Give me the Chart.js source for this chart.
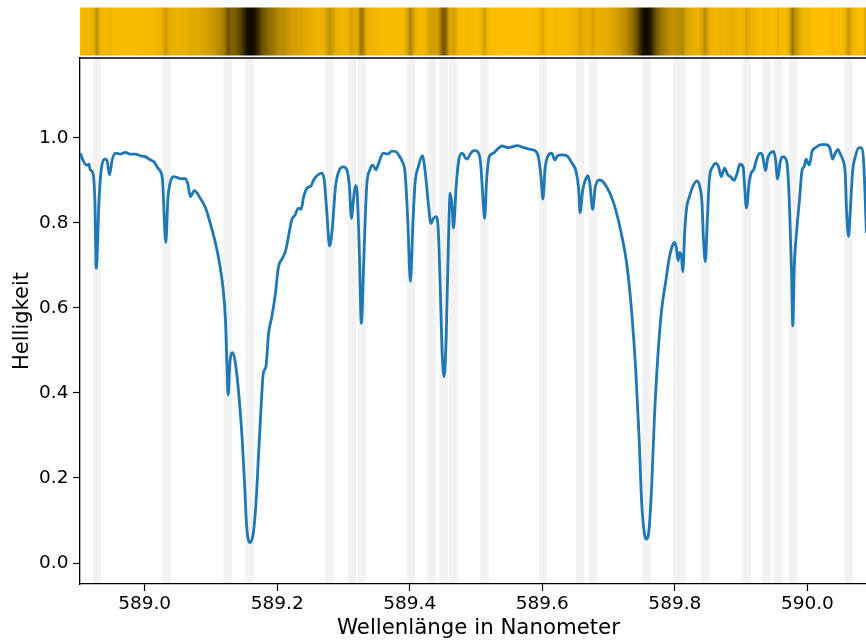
<!DOCTYPE html>
<html>
<head>
<meta charset="utf-8">
<title>Sonnenspektrum Natrium-D-Linien</title>
<script src="https://cdn.jsdelivr.net/npm/chart.js@4.4.1/dist/chart.umd.min.js"></script>
<style>
  html, body { margin: 0; padding: 0; background: #fff; overflow: hidden; }
  #wrap { width: 866px; height: 641px; overflow: hidden; }
</style>
</head>
<body>
<div id="wrap"><canvas id="spectrum" width="878" height="641"></canvas></div>
<script>
// wavelength in nm and relative brightness
const wavelength = [
  588.903, 588.908, 588.912, 588.916, 588.918, 588.922, 588.925, 588.927, 588.931, 588.934,
  588.939, 588.943, 588.947, 588.951, 588.956, 588.963, 588.971, 588.978, 588.986, 588.994,
  589.001, 589.009, 589.014, 589.020, 589.024, 589.027, 589.032, 589.035, 589.039, 589.044,
  589.049, 589.054, 589.061, 589.065, 589.069, 589.075, 589.084, 589.092, 589.099, 589.107,
  589.113, 589.118, 589.122, 589.124, 589.126, 589.129, 589.133, 589.137, 589.142, 589.147,
  589.151, 589.154, 589.159, 589.164, 589.168, 589.172, 589.176, 589.179, 589.183, 589.187,
  589.192, 589.197, 589.202, 589.208, 589.213, 589.217, 589.222, 589.227, 589.232, 589.236,
  589.240, 589.245, 589.251, 589.255, 589.260, 589.267, 589.271, 589.275, 589.279, 589.283,
  589.288, 589.294, 589.300, 589.305, 589.309, 589.312, 589.315, 589.318, 589.321, 589.324,
  589.327, 589.331, 589.335, 589.340, 589.344, 589.349, 589.353, 589.360, 589.367, 589.373,
  589.379, 589.384, 589.388, 589.393, 589.397, 589.401, 589.405, 589.408, 589.413, 589.419,
  589.423, 589.428, 589.432, 589.436, 589.440, 589.443, 589.446, 589.449, 589.452, 589.455,
  589.458, 589.461, 589.464, 589.466, 589.470, 589.474, 589.479, 589.486, 589.494, 589.499,
  589.504, 589.507, 589.510, 589.513, 589.516, 589.520, 589.526, 589.532, 589.539, 589.549,
  589.562, 589.572, 589.582, 589.589, 589.594, 589.598, 589.601, 589.604, 589.608, 589.614,
  589.619, 589.623, 589.630, 589.637, 589.645, 589.651, 589.655, 589.657, 589.661, 589.665,
  589.669, 589.672, 589.676, 589.680, 589.687, 589.697, 589.707, 589.717, 589.728, 589.735,
  589.741, 589.746, 589.750, 589.754, 589.757, 589.761, 589.765, 589.769, 589.774, 589.780,
  589.787, 589.791, 589.795, 589.799, 589.802, 589.805, 589.807, 589.810, 589.812, 589.815,
  589.818, 589.822, 589.827, 589.833, 589.837, 589.841, 589.843, 589.846, 589.849, 589.852,
  589.857, 589.862, 589.866, 589.870, 589.875, 589.880, 589.884, 589.889, 589.894, 589.898,
  589.903, 589.905, 589.908, 589.912, 589.915, 589.919, 589.923, 589.928, 589.932, 589.934,
  589.937, 589.940, 589.944, 589.949, 589.952, 589.955, 589.959, 589.963, 589.967, 589.970,
  589.973, 589.976, 589.978, 589.980, 589.984, 589.988, 589.992, 589.995, 589.998, 590.001,
  590.003, 590.007, 590.013, 590.021, 590.028, 590.034, 590.038, 590.042, 590.046, 590.049,
  590.053, 590.057, 590.059, 590.062, 590.065, 590.068, 590.073, 590.078, 590.082, 590.085,
  590.089
];
const brightness = [
  0.964, 0.944, 0.936, 0.938, 0.925, 0.917, 0.850, 0.693, 0.846, 0.917,
  0.950, 0.948, 0.913, 0.948, 0.964, 0.962, 0.966, 0.962, 0.962, 0.958,
  0.956, 0.948, 0.944, 0.929, 0.921, 0.900, 0.754, 0.854, 0.897, 0.909,
  0.907, 0.904, 0.904, 0.893, 0.862, 0.876, 0.858, 0.835, 0.799, 0.752,
  0.705, 0.650, 0.572, 0.478, 0.395, 0.478, 0.495, 0.470, 0.399, 0.297,
  0.180, 0.085, 0.048, 0.070, 0.140, 0.258, 0.376, 0.446, 0.462, 0.540,
  0.580, 0.630, 0.697, 0.717, 0.736, 0.768, 0.807, 0.819, 0.835, 0.832,
  0.862, 0.882, 0.887, 0.901, 0.911, 0.917, 0.901, 0.823, 0.746, 0.784,
  0.885, 0.925, 0.932, 0.925, 0.885, 0.811, 0.854, 0.888, 0.862, 0.729,
  0.564, 0.729, 0.885, 0.926, 0.936, 0.925, 0.940, 0.964, 0.962, 0.969,
  0.968, 0.958, 0.947, 0.917, 0.807, 0.662, 0.807, 0.893, 0.932, 0.958,
  0.925, 0.846, 0.799, 0.811, 0.815, 0.784, 0.650, 0.493, 0.438, 0.532,
  0.729, 0.870, 0.838, 0.788, 0.885, 0.948, 0.964, 0.950, 0.968, 0.970,
  0.964, 0.940, 0.870, 0.811, 0.901, 0.956, 0.964, 0.973, 0.981, 0.977,
  0.982, 0.977, 0.973, 0.970, 0.956, 0.909, 0.856, 0.925, 0.956, 0.964,
  0.948, 0.958, 0.960, 0.958, 0.940, 0.921, 0.878, 0.824, 0.878, 0.901,
  0.911, 0.889, 0.832, 0.885, 0.901, 0.885, 0.850, 0.791, 0.697, 0.587,
  0.454, 0.297, 0.140, 0.070, 0.056, 0.078, 0.180, 0.336, 0.478, 0.595,
  0.670, 0.713, 0.740, 0.754, 0.744, 0.711, 0.730, 0.721, 0.685, 0.784,
  0.838, 0.862, 0.885, 0.899, 0.889, 0.846, 0.768, 0.709, 0.807, 0.901,
  0.932, 0.940, 0.932, 0.909, 0.929, 0.913, 0.909, 0.900, 0.917, 0.938,
  0.932, 0.893, 0.835, 0.893, 0.917, 0.925, 0.948, 0.964, 0.960, 0.944,
  0.923, 0.952, 0.964, 0.968, 0.948, 0.903, 0.944, 0.956, 0.952, 0.929,
  0.838, 0.689, 0.558, 0.689, 0.784, 0.854, 0.925, 0.932, 0.950, 0.940,
  0.936, 0.968, 0.978, 0.984, 0.984, 0.976, 0.950, 0.964, 0.973, 0.964,
  0.950, 0.917, 0.831, 0.768, 0.838, 0.917, 0.960, 0.977, 0.976, 0.940,
  0.776
];
// marked absorption lines (nm)
const lineCenters = [
  588.928, 589.033, 589.125, 589.159, 589.279, 589.313, 589.328, 589.402, 589.433, 589.451,
  589.466, 589.513, 589.601, 589.657, 589.676, 589.757, 589.804, 589.810, 589.846, 589.908,
  589.938, 589.956, 589.978, 590.062
];
const xTicks = [589.0, 589.2, 589.4, 589.6, 589.8, 590.0];
const yTicks = [0.0, 0.2, 0.4, 0.6, 0.8, 1.0];

const lineColor = "#1f77b4";
const bandColor = "#f2f2f2";

Chart.defaults.font.family = "'DejaVu Sans', sans-serif";
Chart.defaults.color = "#000";

// grey bands behind the curve + coloured spectrum strip above the axes
const backdrop = {
  id: "backdrop",
  beforeDraw(chart) {
    const { ctx, chartArea: a, scales: { x } } = chart;
    ctx.save();
    ctx.fillStyle = bandColor;
    lineCenters.forEach(c => {
      const l = x.getPixelForValue(c - 0.0064);
      const r = x.getPixelForValue(c + 0.0064);
      ctx.fillRect(l, a.top, r - l, a.bottom - a.top);
    });

    const grad = ctx.createLinearGradient(a.left, 0, a.right, 0);
    wavelength.forEach((w, i) => {
      const t = (x.getPixelForValue(w) - a.left) / (a.right - a.left);
      const v = Math.min(1, brightness[i] / 0.985);
      grad.addColorStop(Math.max(0, Math.min(1, t)), `rgb(${255 * v}, ${192 * v}, 0)`);
    });
    ctx.fillStyle = grad;
    ctx.fillRect(a.left, a.top - 50.5, a.right - a.left, 48);
    ctx.restore();
  },
  afterDraw(chart) {
    const { ctx, chartArea: a } = chart;
    ctx.save();
    ctx.strokeStyle = "#000";
    ctx.lineWidth = 1.3;
    ctx.beginPath();
    ctx.moveTo(a.left, a.top);
    ctx.lineTo(a.right, a.top);
    ctx.stroke();
    ctx.restore();
  }
};

new Chart(document.getElementById("spectrum"), {
  type: "line",
  data: {
    datasets: [{
      data: wavelength.map((w, i) => ({ x: w, y: brightness[i] })),
      borderColor: lineColor,
      borderWidth: 2.8,
      pointRadius: 0,
      cubicInterpolationMode: "monotone",
      fill: false,
    }],
  },
  options: {
    responsive: false,
    devicePixelRatio: 1,
    animation: false,
    events: [],
    layout: { padding: { top: 58, right: 1, left: 0, bottom: 0 } },
    plugins: { legend: { display: false }, tooltip: { enabled: false } },
    scales: {
      x: {
        type: "linear",
        min: 588.9025,
        max: 590.105,
        afterBuildTicks: s => { s.ticks = xTicks.map(v => ({ value: v })); },
        afterFit: s => { s.height = 57; },
        grid: { drawOnChartArea: false, tickLength: 7, tickColor: "#000", tickWidth: 1.2 },
        border: { color: "#000", width: 1.3 },
        ticks: { font: { size: 18.5 }, padding: 2, maxRotation: 0, callback: v => v.toFixed(1) },
        title: { display: true, text: "Wellenlänge in Nanometer", font: { size: 21.3 }, padding: { top: 0, bottom: 0 } },
      },
      y: {
        min: -0.0494,
        max: 1.188,
        afterBuildTicks: s => { s.ticks = yTicks.map(v => ({ value: v })); },
        afterFit: s => { s.width = 80; },
        grid: { drawOnChartArea: false, tickLength: 7, tickColor: "#000", tickWidth: 1.2 },
        border: { color: "#000", width: 1.3 },
        ticks: { font: { size: 18.5 }, padding: 4.5, callback: v => v.toFixed(1) },
        title: { display: true, text: "Helligkeit", font: { size: 21 }, padding: { top: 10, bottom: 0 } },
      },
    },
  },
  plugins: [backdrop],
});
</script>
</body>
</html>
